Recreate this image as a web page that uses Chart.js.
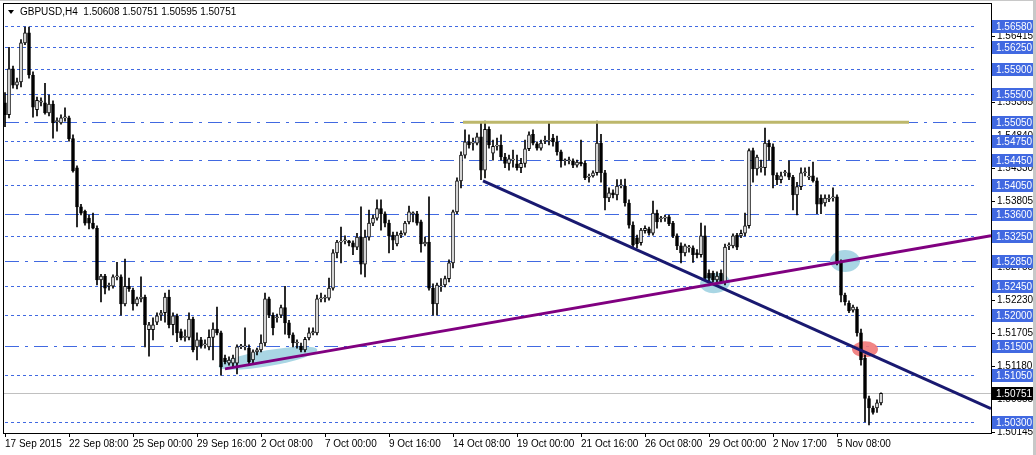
<!DOCTYPE html>
<html><head><meta charset="utf-8">
<script src="https://cdn.jsdelivr.net/npm/chart.js@4/dist/chart.umd.min.js"></script>
<style>html,body{margin:0;padding:0;background:#fff}#wrap{width:1036px;height:455px}</style>
</head><body><div id="wrap"><canvas id="c" width="1036" height="455"></canvas></div>
<script>
const openP=[1.5536,1.5517,1.5590,1.5564,1.5569,1.5631,1.5647,1.5580,1.5525,1.5537,
1.5536,1.5520,1.5534,1.5506,1.5504,1.5512,1.5512,1.5479,1.5433,1.5371,
1.5364,1.5353,1.5345,1.5337,1.5255,1.5261,1.5245,1.5245,1.5260,1.5260,
1.5217,1.5245,1.5239,1.5217,1.5225,1.5228,1.5176,1.5176,1.5188,1.5199,
1.5203,1.5228,1.5184,1.5198,1.5173,1.5164,1.5164,1.5193,1.5149,1.5160,
1.5152,1.5149,1.5164,1.5177,1.5171,1.5131,1.5123,1.5123,1.5123,1.5149,
1.5149,1.5147,1.5128,1.5141,1.5144,1.5155,1.5225,1.5199,1.5195,1.5199,
1.5211,1.5187,1.5168,1.5155,1.5150,1.5144,1.5163,1.5171,1.5171,1.5225,
1.5226,1.5226,1.5242,1.5298,1.5315,1.5317,1.5317,1.5314,1.5307,1.5323,
1.5280,1.5323,1.5345,1.5353,1.5368,1.5360,1.5345,1.5326,1.5312,1.5326,
1.5329,1.5347,1.5360,1.5360,1.5347,1.5312,1.5315,1.5242,1.5217,1.5244,
1.5247,1.5257,1.5282,1.5363,1.5412,1.5453,1.5474,1.5472,1.5472,1.5482,
1.5429,1.5494,1.5456,1.5467,1.5469,1.5450,1.5440,1.5445,1.5439,1.5433,
1.5440,1.5463,1.5486,1.5471,1.5464,1.5475,1.5475,1.5480,1.5474,1.5458,
1.5444,1.5444,1.5444,1.5437,1.5442,1.5440,1.5418,1.5420,1.5425,1.5472,
1.5425,1.5385,1.5393,1.5390,1.5404,1.5404,1.5377,1.5342,1.5322,1.5314,
1.5333,1.5336,1.5329,1.5361,1.5352,1.5353,1.5355,1.5345,1.5325,1.5309,
1.5298,1.5306,1.5306,1.5298,1.5295,1.5325,1.5266,1.5266,1.5255,1.5266,
1.5252,1.5309,1.5309,1.5326,1.5325,1.5329,1.5341,1.5460,1.5431,1.5433,
1.5433,1.5472,1.5466,1.5421,1.5414,1.5425,1.5425,1.5418,1.5390,1.5403,
1.5425,1.5418,1.5420,1.5412,1.5385,1.5377,1.5383,1.5385,1.5387,1.5283,
1.5231,1.5218,1.5207,1.5209,1.5171,1.5131,1.5067,1.5052,1.5052,1.5060];
const highP=[1.5552,1.5624,1.5594,1.5575,1.5636,1.5656,1.5656,1.5585,1.5545,1.5544,
1.5567,1.5548,1.5539,1.5512,1.5517,1.5528,1.5515,1.5485,1.5436,1.5375,
1.5366,1.5358,1.5361,1.5341,1.5264,1.5264,1.5250,1.5263,1.5283,1.5263,
1.5288,1.5258,1.5242,1.5228,1.5260,1.5231,1.5188,1.5195,1.5203,1.5207,
1.5234,1.5239,1.5203,1.5201,1.5177,1.5176,1.5203,1.5196,1.5171,1.5164,
1.5160,1.5176,1.5187,1.5212,1.5174,1.5136,1.5133,1.5136,1.5152,1.5153,
1.5179,1.5152,1.5144,1.5147,1.5168,1.5234,1.5228,1.5203,1.5201,1.5215,
1.5245,1.5191,1.5171,1.5160,1.5155,1.5164,1.5179,1.5179,1.5231,1.5234,
1.5231,1.5258,1.5303,1.5318,1.5339,1.5325,1.5318,1.5317,1.5329,1.5371,
1.5334,1.5366,1.5358,1.5382,1.5382,1.5363,1.5350,1.5331,1.5331,1.5333,
1.5348,1.5372,1.5363,1.5364,1.5350,1.5323,1.5387,1.5249,1.5250,1.5257,
1.5261,1.5287,1.5366,1.5417,1.5458,1.5493,1.5485,1.5480,1.5488,1.5506,
1.5507,1.5498,1.5477,1.5480,1.5485,1.5456,1.5453,1.5461,1.5453,1.5448,
1.5477,1.5490,1.5493,1.5474,1.5477,1.5483,1.5504,1.5486,1.5483,1.5461,
1.5447,1.5450,1.5447,1.5445,1.5477,1.5444,1.5423,1.5428,1.5507,1.5486,
1.5429,1.5401,1.5398,1.5414,1.5414,1.5415,1.5382,1.5347,1.5326,1.5337,
1.5341,1.5339,1.5380,1.5366,1.5356,1.5358,1.5358,1.5348,1.5328,1.5314,
1.5312,1.5310,1.5309,1.5303,1.5345,1.5341,1.5271,1.5269,1.5268,1.5271,
1.5312,1.5314,1.5328,1.5329,1.5334,1.5361,1.5463,1.5464,1.5453,1.5445,
1.5496,1.5477,1.5471,1.5425,1.5426,1.5429,1.5444,1.5421,1.5410,1.5433,
1.5433,1.5434,1.5442,1.5417,1.5390,1.5390,1.5390,1.5401,1.5390,1.5287,
1.5234,1.5222,1.5215,1.5212,1.5177,1.5136,1.5071,1.5055,1.5065,1.5076];
const lowP=[1.5498,1.5512,1.5559,1.5558,1.5561,1.5628,1.5575,1.5513,1.5515,1.5531,
1.5518,1.5515,1.5480,1.5491,1.5502,1.5507,1.5475,1.5426,1.5339,1.5358,
1.5342,1.5336,1.5336,1.5247,1.5220,1.5233,1.5239,1.5242,1.5255,1.5199,
1.5214,1.5237,1.5207,1.5214,1.5220,1.5149,1.5134,1.5160,1.5184,1.5191,
1.5188,1.5179,1.5168,1.5157,1.5160,1.5158,1.5160,1.5141,1.5128,1.5147,
1.5147,1.5144,1.5128,1.5168,1.5104,1.5122,1.5120,1.5117,1.5106,1.5146,
1.5144,1.5122,1.5123,1.5136,1.5141,1.5150,1.5195,1.5168,1.5188,1.5195,
1.5169,1.5163,1.5149,1.5147,1.5141,1.5141,1.5160,1.5168,1.5168,1.5220,
1.5220,1.5223,1.5239,1.5290,1.5282,1.5312,1.5309,1.5295,1.5303,1.5264,
1.5260,1.5318,1.5341,1.5350,1.5334,1.5339,1.5298,1.5303,1.5309,1.5322,
1.5326,1.5344,1.5347,1.5342,1.5299,1.5309,1.5239,1.5199,1.5199,1.5237,
1.5244,1.5252,1.5274,1.5360,1.5401,1.5448,1.5464,1.5461,1.5469,1.5414,
1.5417,1.5464,1.5445,1.5461,1.5445,1.5433,1.5429,1.5434,1.5429,1.5425,
1.5434,1.5460,1.5469,1.5461,1.5461,1.5471,1.5469,1.5467,1.5453,1.5434,
1.5437,1.5439,1.5433,1.5434,1.5436,1.5414,1.5410,1.5418,1.5421,1.5410,
1.5366,1.5379,1.5385,1.5382,1.5401,1.5372,1.5337,1.5306,1.5306,1.5310,
1.5329,1.5326,1.5326,1.5337,1.5347,1.5348,1.5341,1.5322,1.5303,1.5282,
1.5293,1.5299,1.5283,1.5290,1.5291,1.5255,1.5252,1.5252,1.5250,1.5249,
1.5247,1.5303,1.5306,1.5303,1.5322,1.5325,1.5337,1.5410,1.5421,1.5426,
1.5421,1.5445,1.5401,1.5406,1.5409,1.5420,1.5414,1.5366,1.5358,1.5398,
1.5420,1.5414,1.5410,1.5360,1.5360,1.5372,1.5379,1.5380,1.5279,1.5220,
1.5215,1.5203,1.5204,1.5166,1.5120,1.5030,1.5025,1.5042,1.5045,1.5057];
const closeP=[1.5517,1.5590,1.5564,1.5569,1.5631,1.5647,1.5580,1.5529,1.5540,1.5539,
1.5520,1.5534,1.5504,1.5506,1.5512,1.5512,1.5479,1.5428,1.5371,1.5361,
1.5345,1.5345,1.5337,1.5255,1.5261,1.5242,1.5245,1.5260,1.5260,1.5217,
1.5245,1.5241,1.5217,1.5225,1.5228,1.5184,1.5184,1.5184,1.5198,1.5203,
1.5228,1.5184,1.5198,1.5171,1.5163,1.5164,1.5193,1.5144,1.5160,1.5150,
1.5152,1.5164,1.5177,1.5171,1.5117,1.5125,1.5128,1.5131,1.5149,1.5149,
1.5149,1.5125,1.5141,1.5144,1.5155,1.5225,1.5199,1.5179,1.5196,1.5211,
1.5187,1.5168,1.5155,1.5155,1.5144,1.5161,1.5171,1.5173,1.5225,1.5225,
1.5226,1.5242,1.5298,1.5315,1.5315,1.5317,1.5314,1.5307,1.5323,1.5280,
1.5323,1.5345,1.5353,1.5368,1.5360,1.5345,1.5325,1.5318,1.5326,1.5329,
1.5345,1.5363,1.5360,1.5345,1.5312,1.5315,1.5242,1.5217,1.5247,1.5245,
1.5257,1.5282,1.5363,1.5412,1.5453,1.5474,1.5469,1.5472,1.5482,1.5429,
1.5494,1.5469,1.5467,1.5469,1.5450,1.5440,1.5447,1.5445,1.5433,1.5440,
1.5463,1.5485,1.5472,1.5464,1.5472,1.5475,1.5475,1.5474,1.5458,1.5444,
1.5444,1.5444,1.5437,1.5442,1.5439,1.5417,1.5418,1.5425,1.5472,1.5425,
1.5385,1.5393,1.5390,1.5404,1.5406,1.5377,1.5342,1.5310,1.5312,1.5334,
1.5337,1.5329,1.5361,1.5347,1.5352,1.5353,1.5344,1.5325,1.5309,1.5298,
1.5309,1.5306,1.5295,1.5295,1.5325,1.5258,1.5258,1.5255,1.5261,1.5252,
1.5307,1.5309,1.5325,1.5307,1.5329,1.5341,1.5460,1.5431,1.5450,1.5433,
1.5472,1.5466,1.5421,1.5414,1.5420,1.5425,1.5418,1.5390,1.5403,1.5425,
1.5425,1.5418,1.5412,1.5375,1.5375,1.5385,1.5383,1.5387,1.5283,1.5231,
1.5220,1.5206,1.5212,1.5171,1.5128,1.5067,1.5052,1.5045,1.5060,1.50751];

const xTickIndex=[0,16,32,48,64,80,96,112,128,144,160,176,192,208];
const xTickLabels=["17 Sep 2015","22 Sep 08:00","25 Sep 00:00","29 Sep 16:00","2 Oct 08:00","7 Oct 00:00","9 Oct 16:00","14 Oct 08:00","19 Oct 00:00","21 Oct 16:00","26 Oct 08:00","29 Oct 00:00","2 Nov 17:00","5 Nov 08:00"];
const levelValues=[1.5658,1.5625,1.5590,1.5550,1.5505,1.5475,1.5445,1.5405,1.5360,1.5325,1.5285,1.5245,1.5200,1.5150,1.5105,1.5030];
const levelKinds=["s","s","s","s","dd","s","dd","s","d","s","dd","s","s","dd","s","s"];
const axisPriceLabels=[1.56415,1.55365,1.54840,1.54330,1.53805,1.53255,1.52755,1.52230,1.51705,1.51180,1.50655,1.50145];
const currentPrice=1.50751;
const headerText="GBPUSD,H4  1.50608 1.50751 1.50595 1.50751";
const supportLine=[{x:55,y:1.5114},{x:246.5,y:1.5325}];
const resistLine=[{x:119.5,y:1.5412},{x:246.5,y:1.5051}];
const topLine=[{x:114.5,y:1.5505},{x:226,y:1.5505}];
const markX=[65.75,177.5,210,215];
const markY=[1.5131,1.5250,1.5285,1.5145];
const markColor=["rgba(160,210,225,0.9)","rgba(160,210,225,0.9)","rgba(160,210,225,0.9)","rgba(240,120,120,0.9)"];
const markRx=[50,15,15,13], markRy=[8,10,11,8], markRot=[-0.17,-0.1,0,0];

const idx=closeP.map((_,i)=>i);
const F="'Liberation Sans', Arial, sans-serif";
const fmt=v=>v.toFixed(5);

const drawPlugin={
 id:'mt4',
 beforeDatasetsDraw(chart){
  const {ctx,chartArea:a,scales:{x,y}}=chart;
  ctx.save();
  ctx.beginPath();ctx.rect(a.left,a.top,a.right-a.left,a.bottom-a.top);ctx.clip();
  ctx.lineWidth=1;
  levelValues.forEach((v,i)=>{
   const py=Math.round(y.getPixelForValue(v))+0.5;
   ctx.strokeStyle='#4169e1';
   const k=levelKinds[i];
   ctx.setLineDash(k==='s'?[3,3]:k==='dd'?[14,6,3,6]:[14,6]);
   ctx.beginPath();ctx.moveTo(a.left+2,py);ctx.lineTo(a.right-14,py);ctx.stroke();
  });
  ctx.setLineDash([]);
  const cp=Math.round(y.getPixelForValue(currentPrice))+0.5;
  ctx.strokeStyle='#c0c0c0';ctx.beginPath();ctx.moveTo(a.left,cp);ctx.lineTo(a.right,cp);ctx.stroke();
  markX.forEach((mx,i)=>{
   ctx.fillStyle=markColor[i];
   ctx.beginPath();
   ctx.ellipse(x.getPixelForValue(mx),y.getPixelForValue(markY[i]),markRx[i],markRy[i],markRot[i],0,Math.PI*2);
   ctx.fill();
  });
  ctx.restore();
 },
 afterDraw(chart){
  const {ctx,chartArea:a,scales:{y}}=chart;
  ctx.save();
  ctx.font="10px "+F;ctx.textBaseline='middle';ctx.textAlign='left';
  ctx.strokeStyle='#000';ctx.lineWidth=1;
  axisPriceLabels.forEach(v=>{
   const py=Math.round(y.getPixelForValue(v))+0.5;
   ctx.beginPath();ctx.moveTo(a.right,py);ctx.lineTo(a.right+4,py);ctx.stroke();
   ctx.fillStyle='#000';ctx.fillText(fmt(v),a.right+6,py);
  });
  levelValues.forEach(v=>{
   const py=Math.round(y.getPixelForValue(v));
   ctx.fillStyle='#4169e1';ctx.fillRect(a.right+1,py-6,41,13);
   ctx.fillStyle='#fff';ctx.fillText(fmt(v),a.right+5,py+1);
  });
  const cp=Math.round(y.getPixelForValue(currentPrice));
  ctx.fillStyle='#000';ctx.fillRect(a.right+1,cp-6,41,13);
  ctx.fillStyle='#fff';ctx.fillText(fmt(currentPrice),a.right+5,cp+1);
  ctx.fillStyle='#000';
  ctx.beginPath();ctx.moveTo(8,10);ctx.lineTo(14,10);ctx.lineTo(11,14);ctx.closePath();ctx.fill();
  ctx.fillText(headerText,20,12);
  ctx.strokeStyle='#000';ctx.strokeRect(a.left+0.5,a.top+0.5,a.right-a.left,a.bottom-a.top);
  ctx.fillStyle='#c8c8c8';ctx.fillRect(1033,0,3,455);ctx.fillRect(0,0,1036,1);
  ctx.restore();
 }
};

new Chart(document.getElementById('c'),{
 type:'bar',
 data:{datasets:[
  {type:'line',data:supportLine,borderColor:'#800080',borderWidth:3,pointRadius:0,order:0},
  {type:'line',data:resistLine,borderColor:'#191970',borderWidth:3,pointRadius:0,order:0},
  {type:'line',data:topLine,borderColor:'#bdb76b',borderWidth:3,pointRadius:0,order:0},
  {data:idx.map(i=>({x:i,y:[openP[i],closeP[i]]})),backgroundColor:idx.map(i=>closeP[i]>=openP[i]?'#fff':'#000'),borderColor:'#000',borderWidth:1,borderSkipped:false,barThickness:3,minBarLength:1,grouped:false,order:1},
  {data:idx.map(i=>({x:i,y:[lowP[i],highP[i]]})),backgroundColor:'#000',barThickness:1,grouped:false,order:2}
 ]},
 options:{
  responsive:false,animation:false,devicePixelRatio:1,
  layout:{padding:{left:3,top:3,right:0,bottom:0}},
  plugins:{legend:{display:false},tooltip:{enabled:false}},
  scales:{
   x:{type:'linear',min:-0.5,max:246.5,offset:false,
    afterBuildTicks:s=>{s.ticks=xTickIndex.map(v=>({value:v}));},
    afterFit:s=>{s.height=22;},
    ticks:{autoSkip:false,maxRotation:0,minRotation:0,align:'start',padding:1,color:'#000',font:{family:F,size:10},
     callback:v=>xTickLabels[xTickIndex.indexOf(v)]},
    grid:{drawOnChartArea:false,offset:false,tickLength:4,color:'#000'},border:{color:'#000'}},
   y:{type:'linear',position:'right',min:1.50123,max:1.56942,
    afterFit:s=>{s.width=45;},
    ticks:{display:false},grid:{display:false},border:{color:'#000'}}
  }
 },
 plugins:[drawPlugin]
});
</script></body></html>
